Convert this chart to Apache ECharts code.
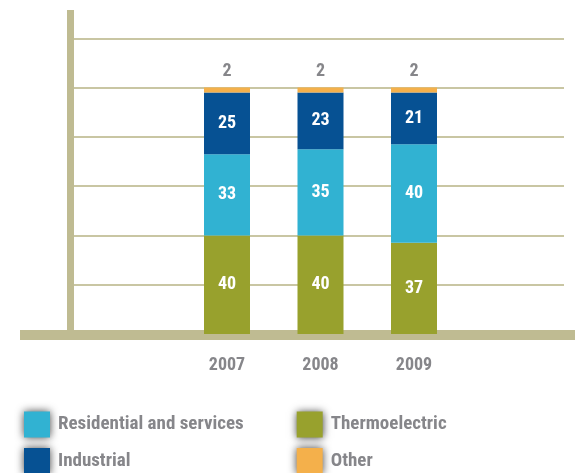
<!DOCTYPE html>
<html>
<head>
<meta charset="utf-8">
<script src="https://cdn.jsdelivr.net/npm/echarts@6/dist/echarts.min.js"></script>
<style>
  html, body { margin: 0; padding: 0; background: #fff; }
  #chart { width: 575px; height: 473px; }
</style>
</head>
<body>
<div id="chart"></div>
<script>
// Water use by sector, share in percent
const years = ['2007', '2008', '2009'];
const thermoelectric = [40, 40, 37];
const residential = [33, 35, 40];
const industrial = [25, 23, 21];
const other = [2, 2, 2];

const FONT = "'Roboto Condensed', 'Open Sans Condensed', sans-serif";
const AXIS = '#bfbb92';
const GRID_LINE = '#c9c6a3';
const GRAY = '#86868a';
const Y_MAX = 131.5;

const chart = echarts.init(document.getElementById('chart'));

const insideLabel = {
  show: true,
  position: 'inside',
  color: '#ffffff',
  fontFamily: FONT,
  fontWeight: 'bold',
  fontSize: 18
};

// one legend per swatch so the two columns line up
function legendItem(name, left, top) {
  return {
    orient: 'vertical', left: left, top: top, padding: 0,
    itemWidth: 26, itemHeight: 26,
    icon: 'rect',
    data: [name],
    itemStyle: { shadowBlur: 8, shadowColor: 'rgba(0,0,0,0.75)', shadowOffsetX: 0, shadowOffsetY: 0 },
    textStyle: { color: GRAY, fontFamily: FONT, fontWeight: 'bold', fontSize: 19, padding: [0, 0, 0, 3] }
  };
}

chart.setOption({
  animation: false,
  grid: [
    { left: 70.5, right: 11, top: 10, bottom: 139 },      // gridlines + vertical axis
    { left: 180.25, right: 114.25, top: 10, bottom: 139 }, // bars
    { left: 20, right: 0, top: 10, bottom: 138 }            // thick base line
  ],
  xAxis: [
    { gridIndex: 0, type: 'category', data: years, show: false },
    {
      gridIndex: 1, type: 'category', data: years,
      axisLine: { show: false }, axisTick: { show: false },
      axisLabel: { margin: 22, color: GRAY, fontFamily: FONT, fontWeight: 'bold', fontSize: 18 }
    },
    {
      gridIndex: 2, type: 'category', data: years,
      axisLine: { show: true, lineStyle: { color: AXIS, width: 10, cap: 'butt' } },
      axisTick: { show: false }, axisLabel: { show: false }
    }
  ],
  yAxis: [
    {
      gridIndex: 0, type: 'value', min: 0, max: Y_MAX, interval: 20,
      axisLine: { show: true, lineStyle: { color: AXIS, width: 7, cap: 'butt' } },
      axisTick: { show: false }, axisLabel: { show: false },
      splitLine: { show: true, showMinLine: false, showMaxLine: false, lineStyle: { color: GRID_LINE, width: 2 } }
    },
    { gridIndex: 1, type: 'value', min: 0, max: Y_MAX, show: false, splitLine: { show: false } },
    { gridIndex: 2, type: 'value', min: 0, max: Y_MAX, show: false, splitLine: { show: false } }
  ],
  legend: [
    legendItem('Residential and services', 24, 411.5),
    legendItem('Industrial', 24, 448),
    legendItem('Thermoelectric', 296.7, 411.5),
    legendItem('Other', 296.7, 448)
  ],
  series: [
    {
      name: 'Thermoelectric', type: 'bar', stack: 'use',
      xAxisIndex: 1, yAxisIndex: 1, barWidth: 46,
      itemStyle: { color: '#98a12d' },
      label: insideLabel,
      data: thermoelectric
    },
    {
      name: 'Residential and services', type: 'bar', stack: 'use',
      xAxisIndex: 1, yAxisIndex: 1, barWidth: 46,
      itemStyle: { color: '#31b2d2' },
      label: insideLabel,
      data: residential
    },
    {
      name: 'Industrial', type: 'bar', stack: 'use',
      xAxisIndex: 1, yAxisIndex: 1, barWidth: 46,
      itemStyle: { color: '#065193' },
      label: insideLabel,
      data: industrial
    },
    {
      name: 'Other', type: 'bar', stack: 'use',
      xAxisIndex: 1, yAxisIndex: 1, barWidth: 46,
      itemStyle: { color: '#f4b04b' },
      label: {
        show: true, position: 'top', distance: 7,
        color: GRAY, fontFamily: FONT, fontWeight: 'bold', fontSize: 18
      },
      data: other
    }
  ]
});
</script>
</body>
</html>
